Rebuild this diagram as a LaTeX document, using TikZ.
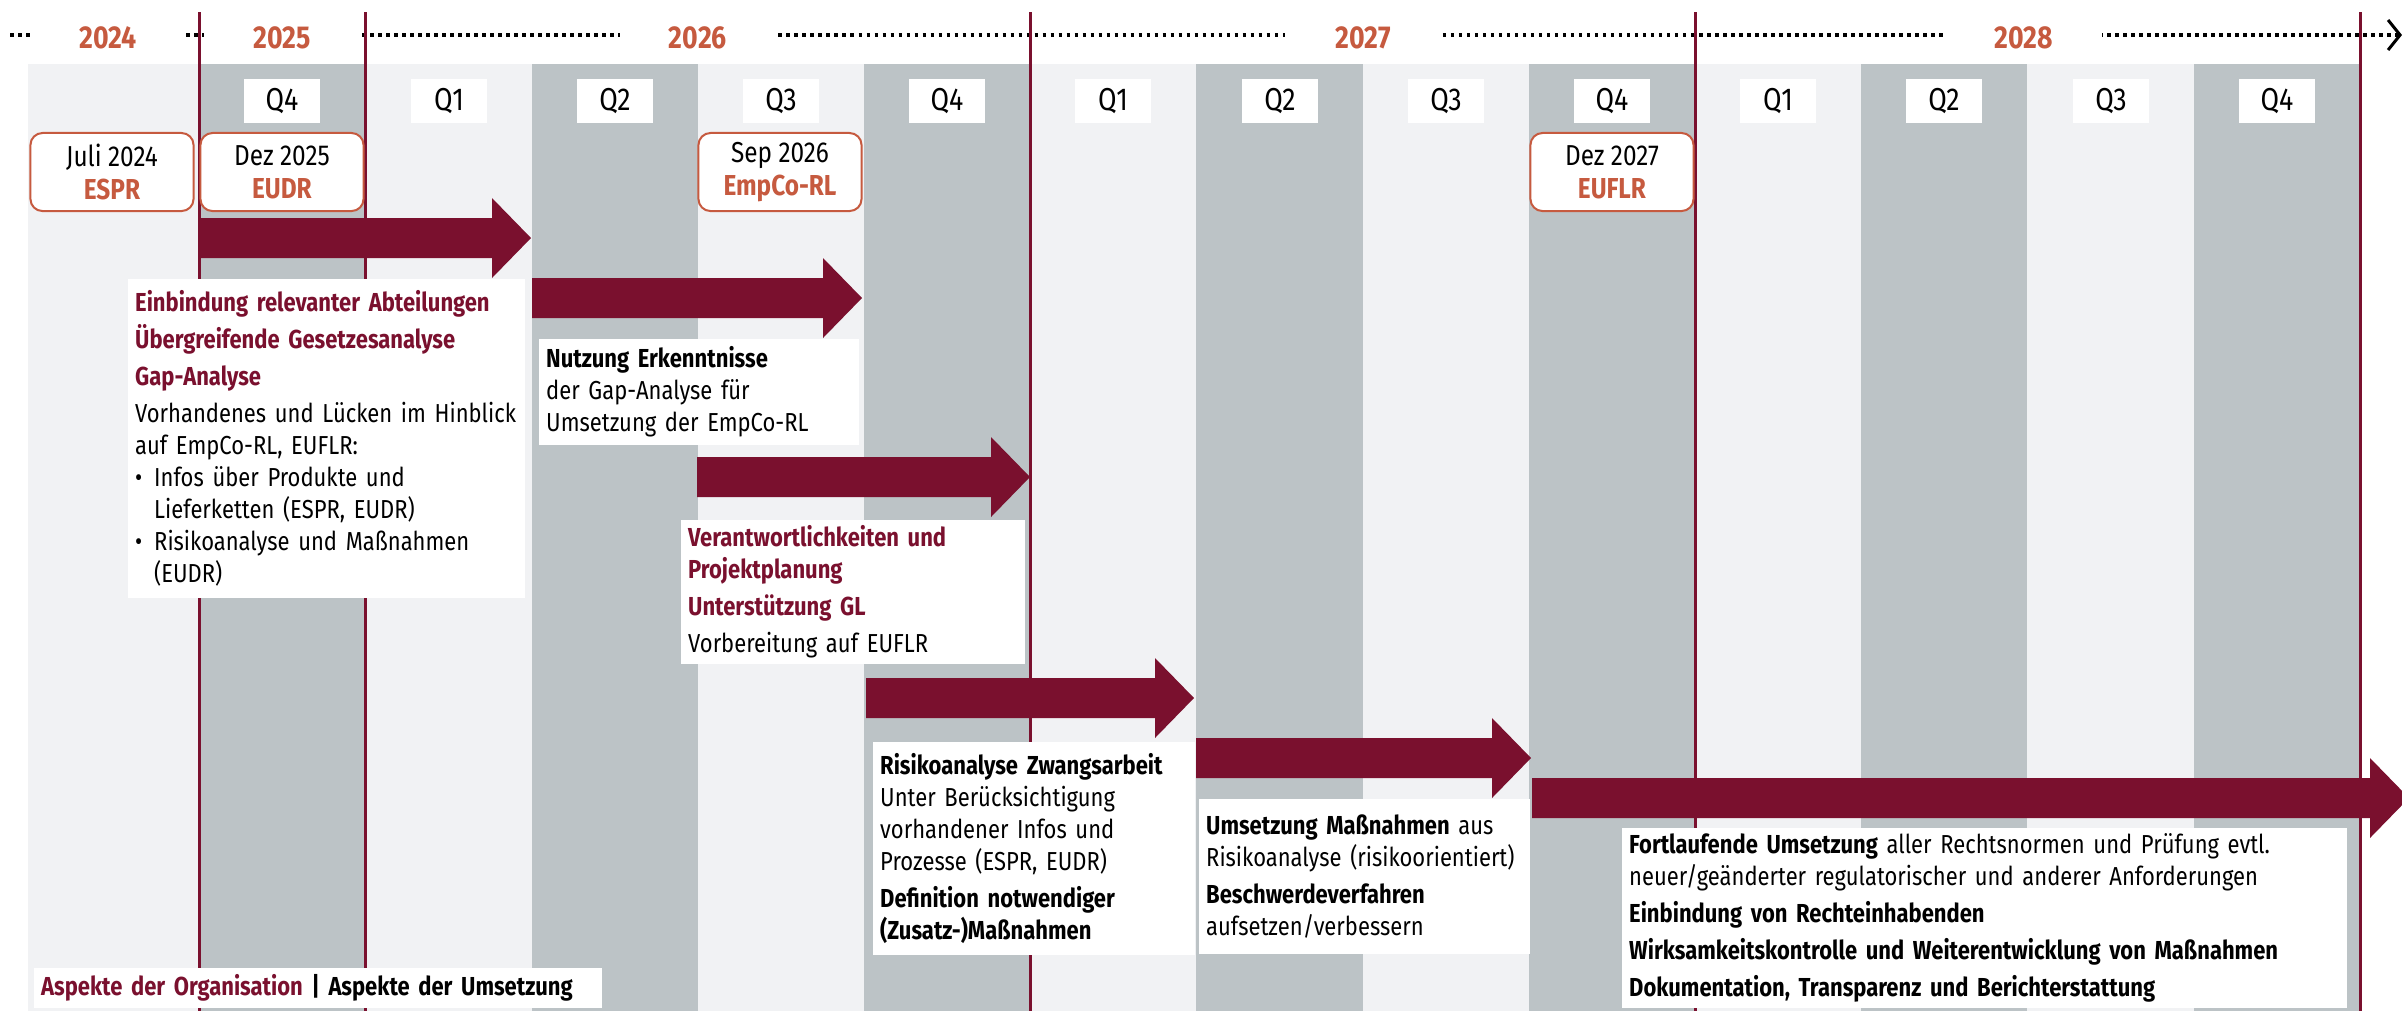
\documentclass[tikz,border=0pt]{standalone}
\usepackage{fontspec}
\setmainfont{Fira Sans}[FakeStretch=0.845]
\usetikzlibrary{arrows.meta}
\definecolor{burgundy}{HTML}{7A102E}
\definecolor{rust}{HTML}{C65A3F}
\definecolor{paleBg}{HTML}{F1F2F4}
\definecolor{slateCol}{HTML}{BCC3C6}
\newcommand{\bodysize}{\fontsize{7.4}{9.1}\selectfont}
\newcommand{\orgline}[1]{\textbf{\textcolor{burgundy}{#1}}}
\newcommand{\bulletitem}{\makebox[0.19cm][l]{•}}
\hyphenpenalty=10000
\exhyphenpenalty=10000
\begin{document}
\begin{tikzpicture}
  [x=0.01cm,y=-0.01cm,
   every node/.style={inner sep=0pt},
   yearlbl/.style={fill=white,minimum width=1.56cm,minimum height=0.42cm,text=rust,font=\fontsize{9}{10}\selectfont\bfseries},
   quarter/.style={fill=white,minimum width=0.76cm,minimum height=0.44cm,font=\fontsize{9}{10}\selectfont},
   deadline/.style={draw=rust,line width=0.02cm,rounded corners=0.12cm,fill=white,minimum width=1.63cm,minimum height=0.78cm,align=center,font=\fontsize{8.2}{9.4}\selectfont},
   infobox/.style={fill=white,anchor=north west,align=left,inner xsep=0.075cm,font=\bodysize},
   phase/.style={fill=burgundy},
   milestone/.style={draw=burgundy,line width=0.03cm}]
  \useasboundingbox (0,0) rectangle (2402,1011);
  \clip (0,0) rectangle (2402,1011);

  % quarter columns
  \fill[paleBg] (28,64) rectangle (2360,1011);
  \fill[slateCol] (199,64) rectangle (365,1011);
  \fill[slateCol] (532,64) rectangle (698,1011);
  \fill[slateCol] (864,64) rectangle (1030,1011);
  \fill[slateCol] (1196,64) rectangle (1363,1011);
  \fill[slateCol] (1529,64) rectangle (1695,1011);
  \fill[slateCol] (1861,64) rectangle (2027,1011);
  \fill[slateCol] (2194,64) rectangle (2360,1011);

  % time axis
  \coordinate (axisL) at (10,35);
  \coordinate (axisR) at (2402,35);
  \draw[line width=0.035cm,dash pattern=on 0.035cm off 0.045cm,
        -{Straight Barb[length=0.12cm,width=0.3cm,line width=0.03cm]}] (axisL) -- (axisR);
  \node[yearlbl] (y2024) at (108,38) {2024};
  \node[yearlbl] (y2025) at (282,38) {2025};
  \node[yearlbl] (y2026) at (698,38) {2026};
  \node[yearlbl] (y2027) at (1363,38) {2027};
  \node[yearlbl] (y2028) at (2024,38) {2028};

  % year boundaries
  \draw[milestone] (199,12) -- (199,1011);
  \draw[milestone] (365,12) -- (365,1011);
  \draw[milestone] (1030,12) -- (1030,1011);
  \draw[milestone] (1695,12) -- (1695,1011);
  \draw[milestone] (2360,12) -- (2360,1011);

  \node[quarter] (q25d) at (282,101) {Q4};
  \node[quarter] (q26a) at (449,101) {Q1};
  \node[quarter] (q26b) at (615,101) {Q2};
  \node[quarter] (q26c) at (781,101) {Q3};
  \node[quarter] (q26d) at (947,101) {Q4};
  \node[quarter] (q27a) at (1113,101) {Q1};
  \node[quarter] (q27b) at (1280,101) {Q2};
  \node[quarter] (q27c) at (1446,101) {Q3};
  \node[quarter] (q27d) at (1612,101) {Q4};
  \node[quarter] (q28a) at (1778,101) {Q1};
  \node[quarter] (q28b) at (1944,101) {Q2};
  \node[quarter] (q28c) at (2111,101) {Q3};
  \node[quarter] (q28d) at (2277,101) {Q4};

  \node[deadline] (espr) at (112,172) {Juli 2024\\\textcolor{rust}{\textbf{ESPR}}};
  \node[deadline] (eudr) at (282,172) {Dez 2025\\\textcolor{rust}{\textbf{EUDR}}};
  \node[deadline] (empco) at (780,172) {Sep 2026\\\textcolor{rust}{\textbf{EmpCo-RL}}};
  \node[deadline] (euflr) at (1612,172) {Dez 2027\\\textcolor{rust}{\textbf{EUFLR}}};

  % phases
  \fill[phase] (199,218) -- (492,218) -- (492,198) -- (531,238) -- (492,278) -- (492,258) -- (199,258) -- cycle;
  \fill[phase] (532,278) -- (823,278) -- (823,258) -- (862,298) -- (823,338) -- (823,318) -- (532,318) -- cycle;
  \fill[phase] (697,457) -- (991,457) -- (991,437) -- (1030,477) -- (991,517) -- (991,497) -- (697,497) -- cycle;
  \fill[phase] (866,678) -- (1155,678) -- (1155,658) -- (1194,698) -- (1155,738) -- (1155,718) -- (866,718) -- cycle;
  \fill[phase] (1196,738) -- (1492,738) -- (1492,718) -- (1531,758) -- (1492,798) -- (1492,778) -- (1196,778) -- cycle;
  \fill[phase] (1532,778) -- (2370,778) -- (2370,758) -- (2409,798) -- (2370,838) -- (2370,818) -- (1532,818) -- cycle;

  \node[infobox,text width=3.82cm,minimum height=3.19cm] (gapbox) at (127,278)
    {\orgline{Einbindung relevanter Abteilungen}\\[1.4pt]
     \orgline{Übergreifende Gesetzesanalyse}\\[1.4pt]
     \orgline{Gap-Analyse}\\[1.4pt]
     Vorhandenes und Lücken im Hinblick\\
     auf EmpCo-RL, EUFLR:\\
     \bulletitem Infos über Produkte und\\
     \hspace*{0.19cm}Lieferketten (ESPR, EUDR)\\
     \bulletitem Risikoanalyse und Maßnahmen\\
     \hspace*{0.19cm}(EUDR)};
  \node[infobox,text width=3.05cm,minimum height=1.06cm] (insightbox) at (538,338)
    {\textbf{Nutzung Erkenntnisse}\\
     der Gap-Analyse für\\
     Umsetzung der EmpCo-RL};
  \node[infobox,text width=3.29cm,minimum height=1.44cm] (planbox) at (680,519)
    {\orgline{Verantwortlichkeiten und}\\
     \orgline{Projektplanung}\\[1.4pt]
     \orgline{Unterstützung GL}\\[1.4pt]
     Vorbereitung auf EUFLR};
  \node[infobox,text width=3.07cm,minimum height=2.13cm] (riskbox) at (872,741)
    {\textbf{Risikoanalyse Zwangsarbeit}\\
     Unter Berücksichtigung\\
     vorhandener Infos und\\
     Prozesse (ESPR, EUDR)\\[1.4pt]
     \textbf{Definition notwendiger}\\
     \textbf{(Zusatz-)Maßnahmen}};
  \node[infobox,text width=3.16cm,minimum height=1.55cm] (measurebox) at (1198,798)
    {\textbf{Umsetzung Maßnahmen} aus\\
     Risikoanalyse (risikoorientiert)\\[1.4pt]
     \textbf{Beschwerdeverfahren}\\
     aufsetzen/verbessern};
  \node[infobox,text width=7.10cm,minimum height=1.80cm] (ongoingbox) at (1621,827)
    {\textbf{Fortlaufende Umsetzung} aller Rechtsnormen und Prüfung evtl.\\
     neuer/geänderter regulatorischer und anderer Anforderungen\\[1.4pt]
     \textbf{Einbindung von Rechteinhabenden}\\[1.4pt]
     \textbf{Wirksamkeitskontrolle und Weiterentwicklung von Maßnahmen}\\[1.4pt]
     \textbf{Dokumentation, Transparenz und Berichterstattung}};

  \node[infobox,text width=5.53cm,minimum height=0.4cm,font=\fontsize{7.4}{9}\selectfont\bfseries] (legend) at (33,967)
    {\textcolor{burgundy}{Aspekte der Organisation} | Aspekte der Umsetzung};
\end{tikzpicture}
\end{document}
